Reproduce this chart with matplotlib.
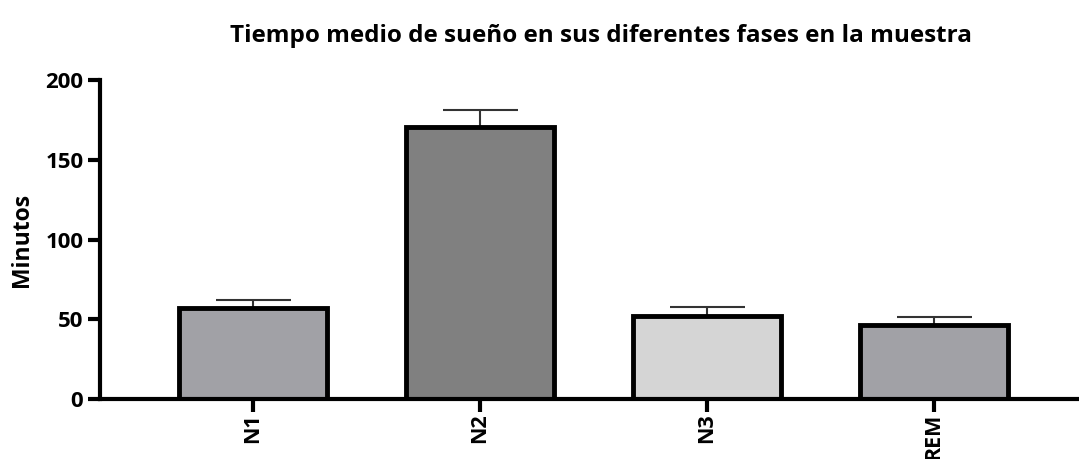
import matplotlib.pyplot as plt

# Tiempo medio de sueño por fase (minutos)
fases = ["N1", "N2", "N3", "REM"]
medias = [57, 170.5, 52, 46.5]
errores = [5, 10.5, 5.5, 5]
colores = ["#a1a1a6", "#808080", "#d5d5d5", "#a1a1a6"]

plt.rcParams["font.family"] = ["Open Sans", "DejaVu Sans"]
plt.rcParams["font.weight"] = "bold"

fig = plt.figure(figsize=(10.79, 4.59), dpi=100)
ax = fig.add_axes([0.0927, 0.1307, 0.9073, 0.695])

x = list(range(len(fases)))
ax.bar(x, medias, width=0.65, color=colores, edgecolor="black", linewidth=3.5, zorder=2)
ax.errorbar(x, medias, yerr=[[0] * len(errores), errores], fmt="none",
            ecolor="#333333", elinewidth=1.5, capsize=27, capthick=1.5, zorder=1)

ax.set_xlim(-0.674, 3.64)
ax.set_ylim(0, 200)
ax.set_yticks([0, 50, 100, 150, 200])
ax.set_xticks(x)
ax.set_xticklabels(fases, rotation=90, fontsize=15.5, fontweight="bold")
ax.tick_params(axis="y", labelsize=16, width=3, length=9, pad=3)
ax.tick_params(axis="x", width=3, length=9, pad=1.5)
for lbl in ax.get_yticklabels():
    lbl.set_fontweight("bold")

for side in ["top", "right"]:
    ax.spines[side].set_visible(False)
for side in ["left", "bottom"]:
    ax.spines[side].set_linewidth(3)

ax.set_ylabel("Minutos", fontsize=16.5, fontweight="bold", labelpad=8)
fig.text(0.557, 0.922, "Tiempo medio de sueño en sus diferentes fases en la muestra",
         ha="center", va="center", fontsize=17.5, fontweight="bold")

fig.savefig("out.png", dpi=100)
